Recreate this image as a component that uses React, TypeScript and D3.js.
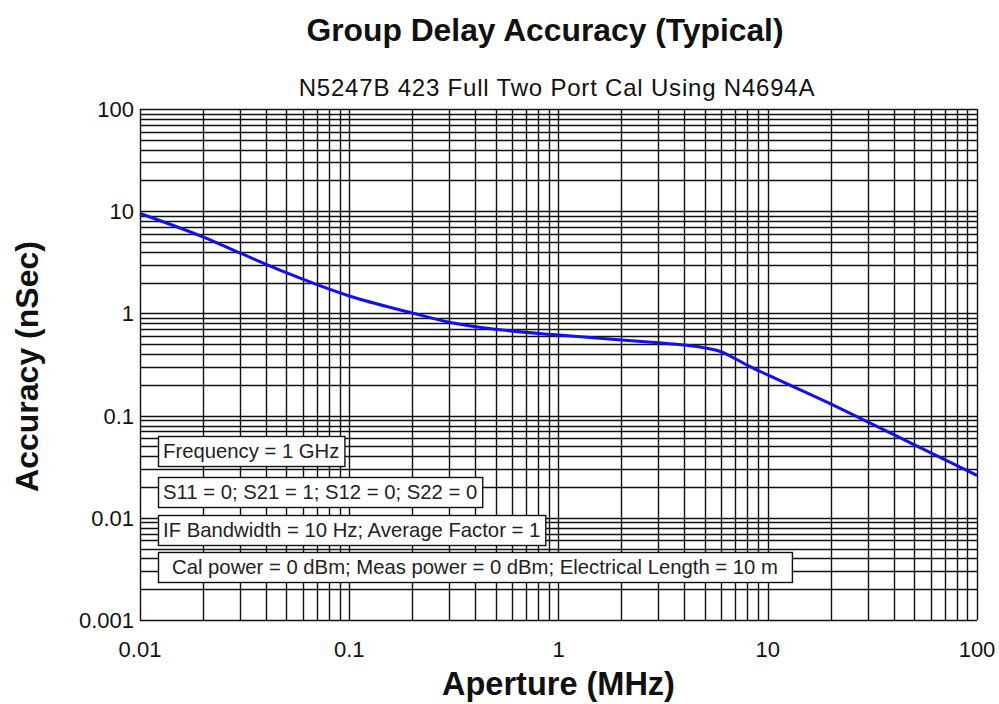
import React, { useRef, useEffect } from 'react';
import * as d3 from 'd3';

// aperture (MHz) vs group delay accuracy (nSec)
const aperture = [0.01, 0.02, 0.03, 0.05, 0.1, 0.2, 0.3, 0.5, 1, 2, 3, 4, 5, 6, 7, 8, 10, 20, 30, 50, 100];
const accuracy = [9.5, 5.6, 3.9, 2.5, 1.48, 1.01, 0.82, 0.7, 0.615, 0.55, 0.515, 0.49, 0.46, 0.42, 0.36, 0.31, 0.25, 0.13, 0.087, 0.052, 0.026];

const xTicks = [0.01, 0.1, 1, 10, 100];
const yTicks = [0.001, 0.01, 0.1, 1, 10, 100];
const xTickLabels = ['0.01', '0.1', '1', '10', '100'];
const yTickLabels = ['0.001', '0.01', '0.1', '1', '10', '100'];

const notes = [
  'Frequency = 1 GHz',
  'S11 = 0; S21 = 1; S12 = 0; S22 = 0',
  'IF Bandwidth = 10 Hz; Average Factor = 1',
  'Cal power = 0 dBm; Meas power = 0 dBm; Electrical Length = 10 m',
];

const title = 'Group Delay Accuracy (Typical)';
const subtitle = 'N5247B 423 Full Two Port Cal Using N4694A';
const xTitle = 'Aperture (MHz)';
const yTitle = 'Accuracy (nSec)';

const W = 999;
const H = 704;
const m = { left: 140, right: 22, top: 109, bottom: 84 };
const font = '"Liberation Sans", Arial, sans-serif';

const App: React.FC = () => {
  const svgRef = useRef<SVGSVGElement>(null);

  useEffect(() => {
    const svg = d3.select(svgRef.current);
    svg.selectAll('*').remove();

    const x = d3.scaleLog().domain([0.01, 100]).range([m.left, W - m.right]);
    const y = d3.scaleLog().domain([0.001, 100]).range([H - m.bottom, m.top]);

    // minor grid: 1..9 per decade
    const xGrid: number[] = [];
    const yGrid: number[] = [];
    for (let e = -2; e < 2; e++) for (let k = 1; k <= 9; k++) xGrid.push(k * Math.pow(10, e));
    for (let e = -3; e < 2; e++) for (let k = 1; k <= 9; k++) yGrid.push(k * Math.pow(10, e));
    xGrid.push(100);
    yGrid.push(100);

    const grid = svg.append('g').attr('stroke', '#111').attr('stroke-width', 1.4);
    grid
      .selectAll('line.v')
      .data(xGrid)
      .join('line')
      .attr('class', 'v')
      .attr('x1', (d) => Math.round(x(d)) + 0.5)
      .attr('x2', (d) => Math.round(x(d)) + 0.5)
      .attr('y1', y(100))
      .attr('y2', y(0.001));
    grid
      .selectAll('line.h')
      .data(yGrid)
      .join('line')
      .attr('class', 'h')
      .attr('y1', (d) => Math.round(y(d)) + 0.5)
      .attr('y2', (d) => Math.round(y(d)) + 0.5)
      .attr('x1', x(0.01))
      .attr('x2', x(100));

    // curve
    const line = d3
      .line<number>()
      .x((d, i) => x(aperture[i]))
      .y((d) => y(d))
      .curve(d3.curveMonotoneX);
    svg
      .append('path')
      .attr('d', line(accuracy))
      .attr('fill', 'none')
      .attr('stroke', '#1010f0')
      .attr('stroke-width', 3);

    // note boxes
    const boxTops = [436, 477, 515, 552];
    const padL = [5, 5, 5, 14];
    const notesG = svg.append('g');
    notes.forEach((t, i) => {
      const g = notesG.append('g');
      const rect = g.append('rect').attr('fill', '#fff').attr('stroke', '#111').attr('stroke-width', 1.4);
      const txt = g
        .append('text')
        .attr('x', x(0.01) + 18 + padL[i])
        .attr('y', boxTops[i] + 22)
        .attr('font-family', font)
        .attr('font-size', 20.3)
        .attr('fill', '#222')
        .text(t);
      const bb = (txt.node() as SVGTextElement).getBBox();
      rect
        .attr('x', x(0.01) + 18 + 0.5)
        .attr('y', boxTops[i] + 0.5)
        .attr('width', bb.width + padL[i] * 2)
        .attr('height', 30);
    });

    // tick labels
    svg
      .append('g')
      .selectAll('text')
      .data(xTicks)
      .join('text')
      .attr('x', (d) => x(d))
      .attr('y', H - m.bottom + 37)
      .attr('text-anchor', 'middle')
      .attr('font-family', font)
      .attr('font-size', 22)
      .attr('fill', '#111')
      .text((d, i) => xTickLabels[i]);
    svg
      .append('g')
      .selectAll('text')
      .data(yTicks)
      .join('text')
      .attr('x', m.left - 6)
      .attr('y', (d) => y(d) + 8)
      .attr('text-anchor', 'end')
      .attr('font-family', font)
      .attr('font-size', 22)
      .attr('fill', '#111')
      .text((d, i) => yTickLabels[i]);

    // titles
    svg
      .append('text')
      .attr('x', 545)
      .attr('y', 41)
      .attr('text-anchor', 'middle')
      .attr('font-family', font)
      .attr('font-weight', 'bold')
      .attr('font-size', 31.8)
      .attr('fill', '#111')
      .text(title);
    svg
      .append('text')
      .attr('x', 557)
      .attr('y', 96)
      .attr('text-anchor', 'middle')
      .attr('font-family', font)
      .attr('font-size', 24)
      .attr('letter-spacing', 0.8)
      .attr('fill', '#111')
      .text(subtitle);
    svg
      .append('text')
      .attr('x', (m.left + W - m.right) / 2)
      .attr('y', 695)
      .attr('text-anchor', 'middle')
      .attr('font-family', font)
      .attr('font-weight', 'bold')
      .attr('font-size', 32.5)
      .attr('fill', '#111')
      .text(xTitle);
    svg
      .append('text')
      .attr('transform', `translate(38,${(m.top + H - m.bottom) / 2 + 2}) rotate(-90)`)
      .attr('text-anchor', 'middle')
      .attr('font-family', font)
      .attr('font-weight', 'bold')
      .attr('font-size', 32)
      .attr('fill', '#111')
      .text(yTitle);
  }, []);

  return (
    <svg
      ref={svgRef}
      width={W}
      height={H}
      style={{ position: 'absolute', left: 0, top: 0, background: '#fff' }}
    />
  );
};

export default App;
